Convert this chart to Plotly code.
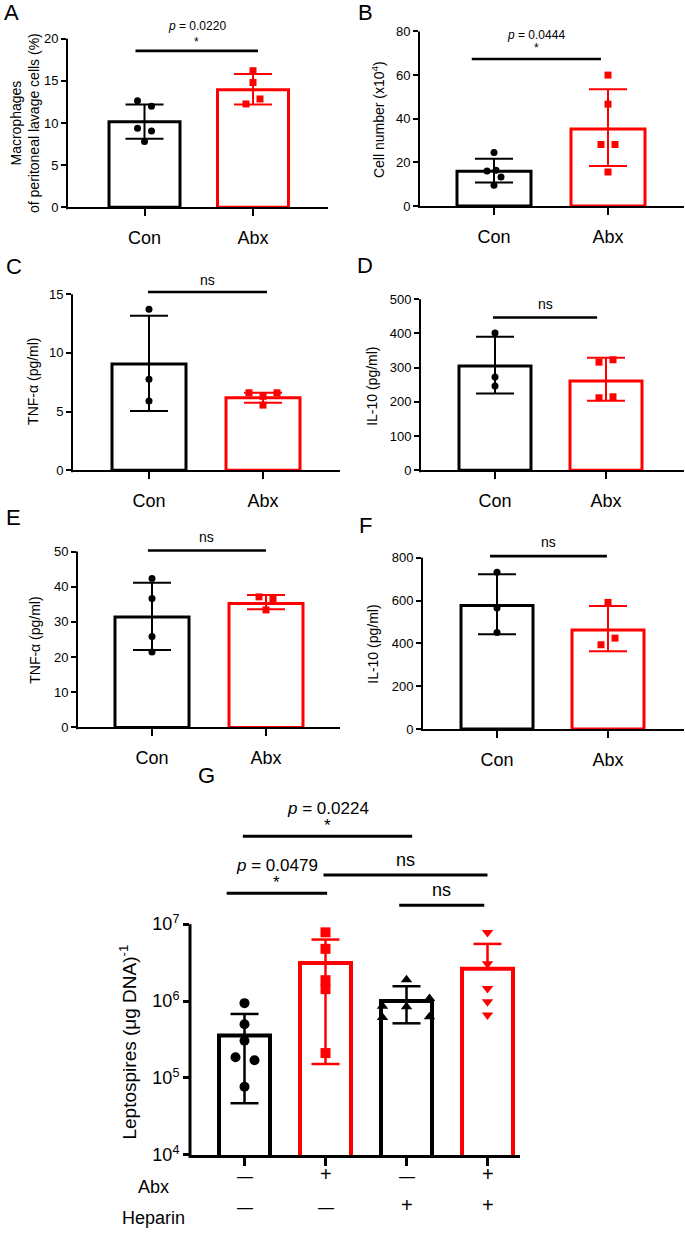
import math
import plotly.graph_objects as go

W, H = 685, 1239
FONT = "Arial, 'Liberation Sans', Helvetica, sans-serif"
BLACK = "#000000"
RED = "#FF0000"

# ---------------- data ----------------
groups = ["Con", "Abx"]

# A: macrophages of peritoneal lavage cells (%)
A_con = [12.65, 11.98, 9.39, 9.04, 7.82]
A_abx = [16.2, 14.8, 12.85, 12.26]
A_mean = [10.15, 13.95]
A_lo = [8.13, 12.2]
A_hi = [12.2, 15.8]
A_ticks = [0, 5, 10, 15, 20]
A_sig = 18.55
A_ptext = "<i>p</i> = 0.0220"

# B: cell number (x10^4)
B_con = [24.5, 16.0, 16.4, 13.3, 9.5]
B_abx = [60.0, 46.7, 28.2, 28.2, 15.6]
B_mean = [15.9, 35.3]
B_lo = [10.8, 18.3]
B_hi = [21.7, 53.5]
B_ticks = [0, 20, 40, 60, 80]
B_sig = 67.4
B_ptext = "<i>p</i> = 0.0444"

# C: TNF-a (pg/ml)
C_con = [13.73, 7.75, 5.89]
C_abx = [6.6, 6.6, 6.3, 5.55]
C_mean = [9.05, 6.17]
C_lo = [5.05, 5.75]
C_hi = [13.17, 6.6]
C_ticks = [0, 5, 10, 15]
C_sig = 15.2

# D: IL-10 (pg/ml)
D_con = [401, 272.7, 246.6]
D_abx = [316, 323, 211.8, 214.7]
D_mean = [304.6, 261]
D_lo = [224.4, 203]
D_hi = [390.7, 328.8]
D_ticks = [0, 100, 200, 300, 400, 500]
D_sig = 446.8

# E: TNF-a (pg/ml)
E_con = [42.3, 36.65, 25.85, 21.4]
E_abx = [37.1, 36.4, 33.4]
E_mean = [31.4, 35.2]
E_lo = [22.0, 33.6]
E_hi = [41.1, 37.6]
E_ticks = [0, 10, 20, 30, 40, 50]
E_sig = 50.3

# F: IL-10 (pg/ml)
F_con = [732, 565, 451]
F_abx = [591.5, 424.7, 393.8]
F_mean = [577.6, 463]
F_lo = [443, 363]
F_hi = [722.8, 574.5]
F_ticks = [0, 200, 400, 600, 800]
F_sig = 807.7

# G: leptospires (ug DNA)^-1
G_ctrl = [9.4e5, 5.0e5, 3.05e5, 1.86e5, 1.7e5, 7.7e4]
G_abx = [7.83e6, 4.78e6, 1.87e6, 1.43e6, 2.11e5]
G_hep = [1.90e6, 8.43e5, 8.6e5, 6.14e5, 1.08e6, 6.27e5]
G_both = [7.8e6, 3.05e6, 1.46e6, 9.8e5, 6.6e5]
G_mean = [3.57e5, 3.12e6, 1.0e6, 2.64e6]
G_lo = [4.7e4, 1.52e5, 5.14e5, None]
G_hi = [6.8e5, 6.31e6, 1.56e6, 5.54e6]
G_ticks = [1e4, 1e5, 1e6, 1e7]
G_ticktext = ["10<sup>4</sup>", "10<sup>5</sup>", "10<sup>6</sup>", "10<sup>7</sup>"]
G_abx_signs = ["—", "+", "—", "+"]
G_hep_signs = ["—", "—", "+", "+"]
G_sig_y = [1.39e8, 2.52e7, 4.35e7, 1.76e7]
G_sig_from = [-0.02, -0.22, 0.975, 1.91]
G_sig_to = [2.07, 1.02, 3.0, 2.96]
G_sig_text = ["<i>p</i> = 0.0224", "<i>p</i> = 0.0479", "ns", "ns"]
G_sig_star = ["*", "*", "", ""]

# ---------------- point jitter (pixels) ----------------
A_dx = [[-7, 7, -7, 7, 0], [0, 0, 7, -7]]
B_dx = [[0, -7, 2, 7, 0], [0, 0, -7, 7, 0]]
C_dx = [[0, 0, 0], [-14, 14, 0, 0]]
D_dx = [[0, 0, 0], [-7, 7, -7, 7]]
E_dx = [[0, 0, 0, 0], [-7, 7, 0]]
F_dx = [[0, 0, 0], [0, 7, -7]]
G_dx = [[0, 0, 0, -9, 10, 0], [0, 0, 0, 0, 0], [0, 0, -24, -24, 23, 23], [0, 0, 0, 0, 0]]

fig = go.Figure()
annotations = []
shapes = []


def ident(v):
    return v


def add_panel(n, geo, cats, means, los, his, pts, dxs, colors, symbols,
              ticks, ticktext, sigs, log=False, show_xlabels=True):
    xa = "x" if n == 1 else f"x{n}"
    ya = "y" if n == 1 else f"y{n}"
    xl = "xaxis" if n == 1 else f"xaxis{n}"
    yl = "yaxis" if n == 1 else f"yaxis{n}"
    u = geo["step"]
    f = math.log10 if log else ident
    ncat = len(cats)
    bottom, top = f(ticks[0]), f(ticks[-1])
    span = geo["y0"] - geo["ytop"]
    rmax = bottom + (top - bottom) * (geo["y0"] - (geo["ytop"] - geo["ext"])) / span
    xr = [(geo["left"] - geo["c0"]) / u, (geo["right"] - geo["c0"]) / u]

    fig.add_trace(go.Bar(
        x=list(range(ncat)), y=means, width=geo["barw"] / u,
        marker=dict(color="rgba(255,255,255,1)", line=dict(color=colors, width=geo["barlw"])),
        xaxis=xa, yaxis=ya, hoverinfo="skip"))

    cw = geo["cap"] / u
    for i in range(ncat):
        lo = los[i]
        xs = [i, i, None, i - cw, i + cw]
        ys = [lo if lo is not None else means[i], his[i], None, his[i], his[i]]
        if lo is not None:
            xs += [None, i - cw, i + cw]
            ys += [None, lo, lo]
        fig.add_trace(go.Scatter(x=xs, y=ys, mode="lines",
                                 line=dict(color=colors[i], width=geo["errlw"]),
                                 xaxis=xa, yaxis=ya, hoverinfo="skip"))
    for i in range(ncat):
        fig.add_trace(go.Scatter(
            x=[i + d / u for d in dxs[i]], y=pts[i], mode="markers",
            marker=dict(symbol=symbols[i], size=geo["ms"], color=colors[i], line=dict(width=0)),
            xaxis=xa, yaxis=ya, cliponaxis=False, hoverinfo="skip"))

    for s in sigs:
        fig.add_trace(go.Scatter(x=[s["x0"], s["x1"]], y=[s["y"], s["y"]], mode="lines",
                                 line=dict(color=BLACK, width=geo["siglw"]),
                                 xaxis=xa, yaxis=ya, hoverinfo="skip"))
        for txt, shift, size in s["texts"]:
            if not txt:
                continue
            annotations.append(dict(
                x=(s["x0"] + s["x1"]) / 2, y=f(s["y"]), xref=xa, yref=ya,
                text=txt, showarrow=False, yshift=shift, yanchor="middle", xanchor="center",
                font=dict(family=FONT, size=size, color=BLACK)))

    # y axis line from 0 to the top tick
    shapes.append(dict(type="line", xref="paper", yref="paper",
                       x0=geo["left"] / W, x1=geo["left"] / W,
                       y0=1 - (geo["y0"] + geo["axlw"]) / H, y1=1 - geo["ytop"] / H,
                       line=dict(color=BLACK, width=geo["axlw"])))

    xdict = dict(domain=[geo["left"] / W, geo["right"] / W], range=xr, anchor=ya,
                 tickvals=list(range(ncat)),
                 ticks="outside", ticklen=geo["xticklen"], tickwidth=geo["axlw"], tickcolor=BLACK,
                 showline=True, linecolor=BLACK, linewidth=geo["axlw"],
                 showgrid=False, zeroline=False, fixedrange=True,
                 showticklabels=show_xlabels)
    if show_xlabels:
        xdict.update(ticktext=cats, ticklabelstandoff=geo.get("xstand", 4),
                     tickfont=dict(family=FONT, size=geo["xfont"], color=BLACK))
    fig.update_layout({
        xl: xdict,
        yl: dict(domain=[1 - geo["y0"] / H, 1 - (geo["ytop"] - geo["ext"]) / H],
                 range=[bottom, rmax], type="log" if log else "linear", anchor=xa,
                 tickvals=ticks, ticktext=ticktext if ticktext is not None else [str(t) for t in ticks],
                 ticks="outside", ticklen=geo["yticklen"], tickwidth=geo["axlw"], tickcolor=BLACK,
                 showline=False, showgrid=False, zeroline=False, fixedrange=True,
                 tickfont=dict(family=FONT, size=geo["yfont"], color=BLACK)),
    })


base = dict(ext=10, barlw=3, errlw=2, siglw=2.6, axlw=2, cap=19, ms=7,
            xticklen=7, yticklen=5, xfont=18, yfont=13, xstand=6)

geoA = dict(base, left=67, right=328, c0=144.5, step=108.5, y0=209, ytop=39, barw=71)
geoB = dict(base, left=419, right=684, c0=494, step=114, y0=207.7, ytop=31.7, barw=74)
geoC = dict(base, left=72, right=340, c0=149, step=114, y0=474, ytop=296.7, barw=74)
geoD = dict(base, left=420, right=684, c0=495, step=111, y0=474, ytop=301.7, barw=72)
geoE = dict(base, left=77, right=340, c0=152, step=114, y0=733.3, ytop=556, barw=74)
geoF = dict(base, left=422, right=684, c0=497, step=111, y0=735, ytop=562.3, barw=72)
geoG = dict(ext=100, barlw=4, errlw=2.5, siglw=3, axlw=3, cap=14, ms=10,
            xticklen=8, yticklen=6, xfont=18, yfont=18,
            left=190, right=520, c0=244.5, step=81, y0=1164.3, ytop=931.7, barw=51, log=True)

two_colors = [BLACK, RED]


def sig2(y, x0, x1, texts):
    return dict(y=y, x0=x0, x1=x1, texts=texts)


add_panel(1, geoA, groups, A_mean, A_lo, A_hi, [A_con, A_abx], A_dx, two_colors,
          ["circle", "square"], A_ticks, None,
          [sig2(A_sig, -0.083, 1.046, [(A_ptext, 25, 12), ("*", 9, 12)])])
add_panel(2, geoB, groups, B_mean, B_lo, B_hi, [B_con, B_abx], B_dx, two_colors,
          ["circle", "square"], B_ticks, None,
          [sig2(B_sig, -0.195, 0.938, [(B_ptext, 24, 12), ("*", 11, 12)])])
add_panel(3, geoC, groups, C_mean, C_lo, C_hi, [C_con, C_abx], C_dx, two_colors,
          ["circle", "square"], C_ticks, None,
          [sig2(C_sig, -0.009, 1.035, [("ns", 12, 14)])])
add_panel(4, geoD, groups, D_mean, D_lo, D_hi, [D_con, D_abx], D_dx, two_colors,
          ["circle", "square"], D_ticks, None,
          [sig2(D_sig, -0.018, 0.92, [("ns", 13, 14)])])
add_panel(5, geoE, groups, E_mean, E_lo, E_hi, [E_con, E_abx], E_dx, two_colors,
          ["circle", "square"], E_ticks, None,
          [sig2(E_sig, -0.036, 1.0, [("ns", 13, 14)])])
add_panel(6, geoF, groups, F_mean, F_lo, F_hi, [F_con, F_abx], F_dx, two_colors,
          ["circle", "square"], F_ticks, None,
          [sig2(F_sig, -0.063, 0.99, [("ns", 14, 14)])])

G_sigs = []
for k in range(len(G_sig_y)):
    texts = [(G_sig_text[k], 28 if G_sig_star[k] else 15, 17 if G_sig_star[k] else 18)]
    if G_sig_star[k]:
        texts.append((G_sig_star[k], 11, 17))
    G_sigs.append(sig2(G_sig_y[k], G_sig_from[k], G_sig_to[k], texts))

add_panel(7, geoG, ["ctrl", "abx", "hep", "both"], G_mean, G_lo, G_hi,
          [G_ctrl, G_abx, G_hep, G_both], G_dx, [BLACK, RED, BLACK, RED],
          ["circle", "square", "triangle-up", "triangle-down"], G_ticks, G_ticktext,
          G_sigs, log=True, show_xlabels=False)


def ann_px(x, y, text, size, angle=0, xanchor="center", yanchor="middle"):
    annotations.append(dict(x=x / W, y=1 - y / H, xref="paper", yref="paper", text=text,
                            showarrow=False, textangle=angle, xanchor=xanchor, yanchor=yanchor,
                            font=dict(family=FONT, size=size, color=BLACK)))


# panel letters
for letter, lx, ly in [("A", 2, 13), ("B", 356, 13), ("C", 4, 269), ("D", 355, 268),
                       ("E", 4, 522), ("F", 357, 530), ("G", 196, 782)]:
    ann_px(lx, ly, letter, 22, xanchor="left")

# y-axis titles
ann_px(25, 124, "Macrophages<br>of peritoneal lavage cells (%)", 14, angle=-90)
ann_px(378, 121, "Cell number (x10<sup>4</sup>)", 14, angle=-90)
ann_px(33, 385, "TNF-α (pg/ml)", 14, angle=-90)
ann_px(372, 390, "IL-10 (pg/ml)", 14, angle=-90)
ann_px(35, 646, "TNF-α (pg/ml)", 14, angle=-90)
ann_px(373, 650, "IL-10 (pg/ml)", 14, angle=-90)
ann_px(128, 1050, "Leptospires (μg DNA)<sup>-1</sup>", 19, angle=-90)

# G treatment rows
ann_px(153, 1197, "Abx", 18)
ann_px(153, 1228, "Heparin", 18)
for i in range(4):
    for signs, ypx in [(G_abx_signs, 1197), (G_hep_signs, 1228)]:
        annotations.append(dict(x=i, y=1 - ypx / H, xref="x7", yref="paper", text=signs[i],
                                showarrow=False,
                                font=dict(family=FONT, size=16 if signs[i] == "—" else 20,
                                          color=BLACK)))

fig.update_layout(
    width=W, height=H, margin=dict(l=0, r=0, t=0, b=0),
    paper_bgcolor="white", plot_bgcolor="rgba(0,0,0,0)",
    showlegend=False, barmode="overlay",
    annotations=annotations, shapes=shapes,
    font=dict(family=FONT, color=BLACK),
)

fig.write_html("out.html", config={"displayModeBar": False},
               post_script="document.body.style.margin='0';")
